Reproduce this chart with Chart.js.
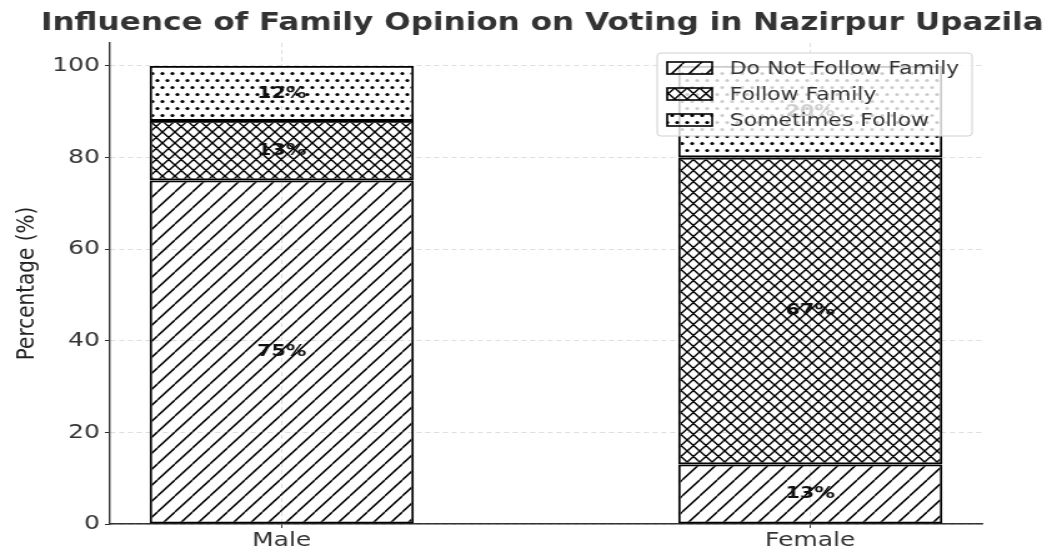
<!DOCTYPE html>
<html lang="en">
<head>
    <meta charset="UTF-8">
    <title>Influence of Family Opinion on Voting in Nazirpur Upazila</title>
    <script src="https://cdn.jsdelivr.net/npm/chart.js"></script>
    <style>
        html, body {
            margin: 0;
            padding: 0;
            background: #fff;
            overflow: hidden;
        }
        /* the reference is stretched sideways, so draw narrow and widen */
        .wrap {
            width: 842px;
            height: 550px;
            transform: scaleX(1.2494);
            transform-origin: 0 0;
        }
    </style>
</head>
<body>
    <div class="wrap">
        <canvas id="myChart" width="842" height="550"></canvas>
    </div>

    <script>
        const categories = ['Male', 'Female'];
        const seriesNames = ['Do Not Follow Family', 'Follow Family', 'Sometimes Follow'];
        const doNotFollow = [75, 13];
        const followFamily = [13, 67];
        const sometimesFollow = [12, 20];
        const yTicks = [0, 20, 40, 60, 80, 100];

        const canvas = document.getElementById('myChart');
        const ctx = canvas.getContext('2d');
        const FONT = 'DejaVu Sans';

        function makePattern(w, h, lw, draw) {
            const c = document.createElement('canvas');
            c.width = w;
            c.height = h;
            const g = c.getContext('2d');
            g.strokeStyle = '#000';
            g.fillStyle = '#000';
            g.lineWidth = lw;
            draw(g, w, h);
            return ctx.createPattern(c, 'repeat');
        }

        const diagPattern = makePattern(14, 16, 1.5, (g, w, h) => {
            g.beginPath();
            for (let k = -1; k <= 1; k++) {
                g.moveTo(k * w, h);
                g.lineTo(k * w + w, 0);
            }
            g.stroke();
        });

        const crossPattern = makePattern(10, 11, 1.5, (g, w, h) => {
            g.beginPath();
            for (let k = -1; k <= 1; k++) {
                g.moveTo(k * w, h);
                g.lineTo(k * w + w, 0);
                g.moveTo(k * w, 0);
                g.lineTo(k * w + w, h);
            }
            g.stroke();
        });

        const dotPattern = makePattern(8, 14, 1, (g, w, h) => {
            const pts = [[2, 3.5], [6, 10.5], [-2, 10.5], [10, 3.5]];
            pts.forEach(p => {
                g.beginPath();
                g.arc(p[0], p[1], 1.6, 0, Math.PI * 2);
                g.fill();
            });
        });

        const patterns = [diagPattern, crossPattern, dotPattern];
        const seriesValues = [doNotFollow, followFamily, sometimesFollow];

        // percentage text in the middle of each piece
        const valueLabels = {
            id: 'valueLabels',
            afterDatasetsDraw(chart) {
                const c = chart.ctx;
                c.save();
                c.font = 'bold 16.5px ' + FONT;
                c.fillStyle = '#111';
                c.textAlign = 'center';
                c.textBaseline = 'middle';
                chart.data.datasets.forEach((ds, di) => {
                    chart.getDatasetMeta(di).data.forEach((bar, i) => {
                        const v = ds.data[i].y;
                        c.fillText(v + '%', bar.x, (bar.y + bar.base) / 2);
                    });
                });
                c.restore();
            }
        };

        const titleAndLegend = {
            id: 'titleAndLegend',
            afterDraw(chart) {
                const c = chart.ctx;
                const area = chart.chartArea;
                c.save();

                c.font = 'bold 24.9px ' + FONT;
                c.fillStyle = '#333';
                c.textAlign = 'center';
                c.textBaseline = 'alphabetic';
                c.fillText('Influence of Family Opinion on Voting in Nazirpur Upazila', (area.left + area.right) / 2 - 3, 30);

                const boxW = 252, boxH = 83;
                const bx = area.right - 8 - boxW;
                const by = area.top + 10;
                c.beginPath();
                c.roundRect(bx, by, boxW, boxH, 3);
                c.fillStyle = 'rgba(255,255,255,0.8)';
                c.fill();
                c.strokeStyle = '#d0d0d0';
                c.lineWidth = 1;
                c.stroke();

                c.font = '17.6px ' + FONT;
                c.textAlign = 'left';
                c.textBaseline = 'middle';
                seriesNames.forEach((name, i) => {
                    const cy = by + 15 + i * 26;
                    c.fillStyle = patterns[i];
                    c.fillRect(bx + 8, cy - 6, 36, 12);
                    c.strokeStyle = '#000';
                    c.lineWidth = 1.6;
                    c.strokeRect(bx + 8, cy - 6, 36, 12);
                    c.fillStyle = '#333';
                    c.fillText(name, bx + 58, cy + 1);
                });
                c.restore();
            }
        };

        const datasets = seriesNames.map((name, si) => ({
            label: name,
            data: categories.map((cat, i) => ({ x: i, y: seriesValues[si][i] })),
            backgroundColor: patterns[si],
            borderColor: '#000',
            borderWidth: 1.9,
            borderSkipped: false,
            categoryPercentage: 0.5,
            barPercentage: 1.0
        }));

        const gridOpts = {
            color: '#d6d6d6',
            lineWidth: 0.8,
            tickLength: 4,
            tickColor: '#333',
            tickWidth: 1,
            offset: false
        };
        const borderOpts = { color: '#333', width: 1.4, dash: [4, 3] };

        const myChart = new Chart(ctx, {
            type: 'bar',
            data: { datasets: datasets },
            options: {
                responsive: false,
                animation: false,
                layout: { padding: { left: 0, right: 56, top: 43, bottom: 0 } },
                plugins: {
                    legend: { display: false },
                    tooltip: { enabled: false }
                },
                scales: {
                    x: {
                        type: 'linear',
                        min: -0.325,
                        max: 1.325,
                        stacked: true,
                        offset: false,
                        afterBuildTicks: s => { s.ticks = categories.map((c, i) => ({ value: i })); },
                        afterFit: s => { s.height = 26; },
                        ticks: {
                            callback: v => categories[v],
                            font: { family: FONT, size: 20 },
                            color: '#333',
                            padding: 1,
                            maxRotation: 0
                        },
                        grid: gridOpts,
                        border: borderOpts
                    },
                    y: {
                        min: 0,
                        max: 105,
                        stacked: true,
                        afterBuildTicks: s => { s.ticks = yTicks.map(v => ({ value: v })); },
                        afterFit: s => { s.width = 88; },
                        ticks: {
                            font: { family: FONT, size: 20 },
                            color: '#333',
                            padding: 4
                        },
                        title: {
                            display: true,
                            text: 'Percentage (%)',
                            font: { family: FONT, size: 20 },
                            color: '#222',
                            padding: { top: 10, bottom: 0 }
                        },
                        grid: gridOpts,
                        border: borderOpts
                    }
                }
            },
            plugins: [valueLabels, titleAndLegend]
        });
    </script>
</body>
</html>
